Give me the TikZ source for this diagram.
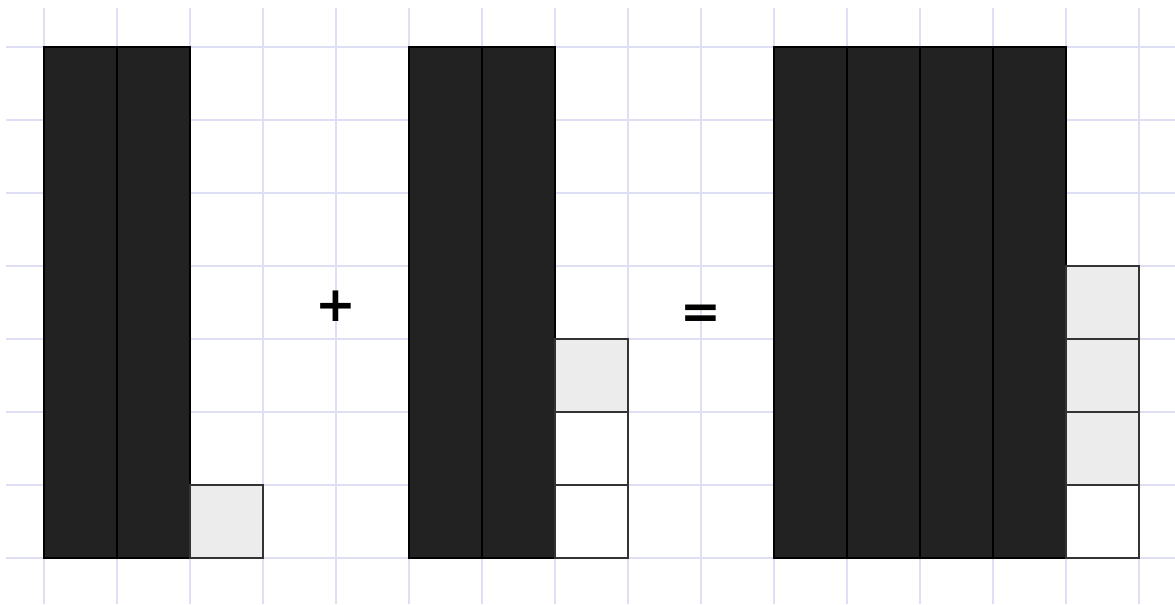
\documentclass[tikz,border=0pt]{standalone}
\usepackage{fontspec}
\setmainfont{DejaVu Sans}
\definecolor{gridc}{RGB}{222,222,245}
\definecolor{darkc}{RGB}{34,34,34}
\definecolor{lightc}{RGB}{236,236,236}
\begin{document}
\begin{tikzpicture}[x=1cm,y=1cm,
  gridline/.style={draw=gridc,line width=0.8pt},
  darkcol/.style={fill=darkc,draw=black,line width=0.8pt},
  graycell/.style={fill=lightc,draw=black!80,line width=0.8pt},
  whitecell/.style={fill=white,draw=black!80,line width=0.8pt},
  optext/.style={font=\bfseries\fontsize{19}{22}\selectfont,inner sep=0pt}]
\useasboundingbox[fill=white] (-0.6027,-0.6301) rectangle (15.4932,7.6438);
% grid
\foreach \i in {0,...,15} \draw[gridline] (\i,-0.6301) -- (\i,7.534);
\foreach \j in {0,...,7} \draw[gridline] (-0.52,\j) -- (15.4932,\j);
% left group
\foreach \i in {0,1} \draw[darkcol] (\i,0) rectangle ++(1,7);
\draw[graycell] (2,0) rectangle ++(1,1);
% middle group
\foreach \i in {5,6} \draw[darkcol] (\i,0) rectangle ++(1,7);
\draw[whitecell] (7,0) rectangle ++(1,1);
\draw[whitecell] (7,1) rectangle ++(1,1);
\draw[graycell] (7,2) rectangle ++(1,1);
% right group
\foreach \i in {10,11,12,13} \draw[darkcol] (\i,0) rectangle ++(1,7);
\draw[whitecell] (14,0) rectangle ++(1,1);
\foreach \j in {1,2,3} \draw[graycell] (14,\j) rectangle ++(1,1);
% operators
\node[optext] (plus) at (4,3.45) {+};
\node[optext] (eq) at (9.0,3.31) {=};
\end{tikzpicture}
\end{document}
